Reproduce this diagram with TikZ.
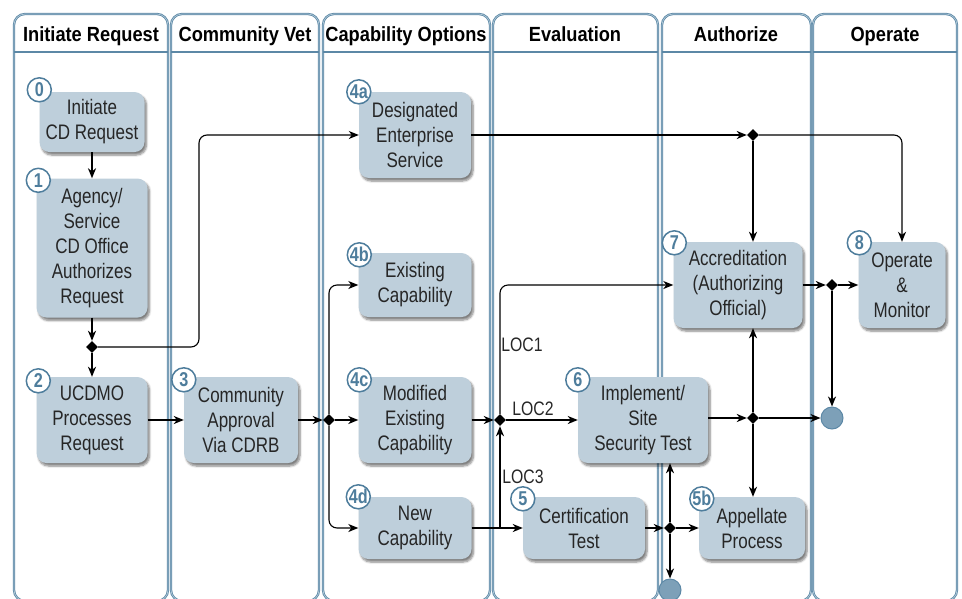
\documentclass[tikz,border=0pt]{standalone}
\usepackage{fontspec}
\setmainfont{Liberation Sans}[FakeStretch=0.81]
\newfontfamily\lanefont{Liberation Sans}[FakeStretch=0.89]
\usepackage{tikz}
\usetikzlibrary{arrows.meta}
\usetikzlibrary{positioning}
\usetikzlibrary{shapes.geometric}
\usetikzlibrary{shadows.blur}
\definecolor{lane blue}{RGB}{92,136,166}
\definecolor{lane pale}{RGB}{176,200,215}
\definecolor{badge blue}{RGB}{78,125,156}
\tikzstyle{task}=[fill=box blue,rounded corners=10pt,align=center,inner sep=0pt,text=black!85,font=\fontsize{21}{25}\selectfont,blur shadow={shadow xshift=2pt,shadow yshift=-3pt,shadow blur steps=6,shadow opacity=50}]
\tikzstyle{badge}=[circle,draw=badge blue,line width=1.5pt,fill=white,text=badge blue,minimum size=24pt,inner sep=0pt,font=\fontsize{20}{20}\selectfont\bfseries]

\begin{document}
\begin{tikzpicture}[
  x=1pt,y=-1pt,
  lane/.style={draw=lane blue,double=lane pale,double distance=0.7pt,line width=0.8pt,rounded corners=11pt},
  lane rule/.style={draw=lane blue,line width=1.6pt},
  head/.style={anchor=base,font=\lanefont\fontsize{20.5}{20.5}\selectfont\bfseries},
  flow/.style={line width=1.6pt,-{Stealth[length=10pt,width=8pt,inset=3pt]}},
  thin flow/.style={flow,line width=1.1pt},
  split/.style={diamond,fill=black,inner sep=0pt,minimum size=12pt},
  end dot/.style={circle,fill=stop blue,draw=lane blue,line width=1pt,minimum size=22pt,inner sep=0pt},
  loc/.style={font=\fontsize{19.5}{19.5}\selectfont,inner sep=0pt,text=black!85},
]
  \colorlet{box blue}{lane blue!40!white}
  \colorlet{stop blue}{lane blue!80!white}
  \useasboundingbox (0,0) rectangle (962,598);

  % swim lanes
  \draw[lane] (14,14) rectangle (168,601);
  \draw[lane] (171,14) rectangle (319,601);
  \draw[lane] (323,14) rectangle (490,601);
  \draw[lane] (493,14) rectangle (658,601);
  \draw[lane] (662,14) rectangle (811,601);
  \draw[lane] (813,14) rectangle (957,601);
  \draw[lane rule] (14,52) -- (168,52) (171,52) -- (319,52) (323,52) -- (490,52)
    (493,52) -- (658,52) (662,52) -- (811,52) (813,52) -- (957,52);
  \node[head] (h1) at (91,41) {Initiate Request};
  \node[head] (h2) at (245,41) {Community Vet};
  \node[head] (h3) at (406,41) {Capability Options};
  \node[head] (h4) at (575,41) {Evaluation};
  \node[head] (h5) at (736,41) {Authorize};
  \node[head] (h6) at (885,41) {Operate};

  % process steps
  \node[task,minimum width=105pt,minimum height=60pt] (init) at (92,122) {Initiate\\CD Request};
  \node[task,minimum width=111pt,minimum height=139pt] (agency) at (92,248) {Agency/\\Service\\CD Office\\Authorizes\\Request};
  \node[task,minimum width=111pt,minimum height=86pt] (ucdmo) at (92,420) {UCDMO\\Processes\\Request};
  \node[task,minimum width=114pt,minimum height=86pt] (cdrb) at (241,420) {Community\\Approval\\Via CDRB};
  \node[task,minimum width=112pt,minimum height=86pt] (des) at (415,135) {Designated\\Enterprise\\Service};
  \node[task,minimum width=113pt,minimum height=64pt] (exist) at (415,285) {Existing\\Capability};
  \node[task,minimum width=113pt,minimum height=86pt] (modif) at (415,420) {Modified\\Existing\\Capability};
  \node[task,minimum width=113pt,minimum height=62pt] (new) at (415,528) {New\\Capability};
  \node[task,minimum width=122pt,minimum height=62pt] (cert) at (584,528) {Certification\\Test};
  \node[task,minimum width=130pt,minimum height=86pt] (impl) at (643,420) {Implement/\\Site\\Security Test};
  \node[task,minimum width=129pt,minimum height=86pt] (accr) at (738,285) {Accreditation\\(Authorizing\\Official)};
  \node[task,minimum width=106pt,minimum height=62pt] (appel) at (752,528) {Appellate\\Process};
  \node[task,minimum width=87pt,minimum height=86pt] (oper) at (902,285) {Operate\\\&\\Monitor};

  \node[badge] (b0) at ([shift={(0,-2)}]init.north west) {0};
  \node[badge] (b1) at ([shift={(2,2)}]agency.north west) {1};
  \node[badge] (b2) at ([shift={(2,4)}]ucdmo.north west) {2};
  \node[badge] (b3) at ([shift={(0,3)}]cdrb.north west) {3};
  \node[badge] (b4a) at (des.north west) {4a};
  \node[badge] (b4b) at ([shift={(1,2)}]exist.north west) {4b};
  \node[badge] (b4c) at ([shift={(1,3)}]modif.north west) {4c};
  \node[badge] (b4d) at (new.north west) {4d};
  \node[badge] (b5) at ([shift={(0,2)}]cert.north west) {5};
  \node[badge] (b6) at ([shift={(0,3)}]impl.north west) {6};
  \node[badge] (b7) at ([shift={(1,1)}]accr.north west) {7};
  \node[badge] (b5b) at ([shift={(3,2)}]appel.north west) {5b};
  \node[badge] (b8) at ([shift={(1,1)}]oper.north west) {8};

  % decision points and ends
  \node[split] (j0) at (92,347) {};
  \node[split] (j3) at (329,420) {};
  \node[split] (j4a) at (753,135) {};
  \node[split] (jloc) at (500,420) {};
  \node[split] (jcert) at (670,528) {};
  \node[split] (jimpl) at (753,418) {};
  \node[split] (jaccr) at (832,285) {};
  \node[end dot] (end1) at (832,418) {};
  \node[end dot] (end2) at (670,590) {};
  \coordinate (up4a) at (199,135);

  \node[loc] (loc1) at (522,345) {LOC1};
  \node[loc] (loc2) at (533,409) {LOC2};
  \node[loc] (loc3) at (523,477) {LOC3};

  \draw[flow] (init) -- (agency);
  \draw[flow] (agency) -- (j0);
  \draw[flow] (j0) -- (ucdmo);
  \draw[thin flow,rounded corners=8pt] (j0) -| (up4a) -- (des);
  \draw[flow] (ucdmo) -- (cdrb);
  \draw[flow] (cdrb) -- (j3);
  \draw[flow] (j3) -- (modif);
  \draw[thin flow,rounded corners=8pt] (j3) |- (exist);
  \draw[thin flow,rounded corners=8pt] (j3) |- (new);

  \draw[flow] (des) -- (j4a);
  \draw[flow] (j4a) -- (j4a |- accr.north);
  \draw[thin flow,rounded corners=8pt] (j4a) -| (oper);

  \draw[flow] (modif) -- (jloc);
  \draw[flow] (jloc) -- (impl);
  \draw[thin flow,rounded corners=8pt] (jloc) |- (accr);
  \draw[flow] (new) -- (cert);
  \draw[flow] (jloc |- new) -- (jloc);

  \draw[flow] (cert) -- (jcert);
  \draw[flow] (jcert) -- (appel);
  \draw[flow] (jcert) -- (jcert |- impl.south);
  \draw[flow] (jcert) -- (end2);

  \draw[flow] (impl.east |- jimpl) -- (jimpl);
  \draw[flow] (jimpl) -- (jimpl |- accr.south);
  \draw[flow] (jimpl) -- (jimpl |- appel.north);
  \draw[flow] (jimpl) -- (end1);

  \draw[flow] (accr) -- (jaccr);
  \draw[flow] (jaccr) -- (oper);
  \draw[flow] (jaccr) -- (end1);
\end{tikzpicture}
\end{document}
